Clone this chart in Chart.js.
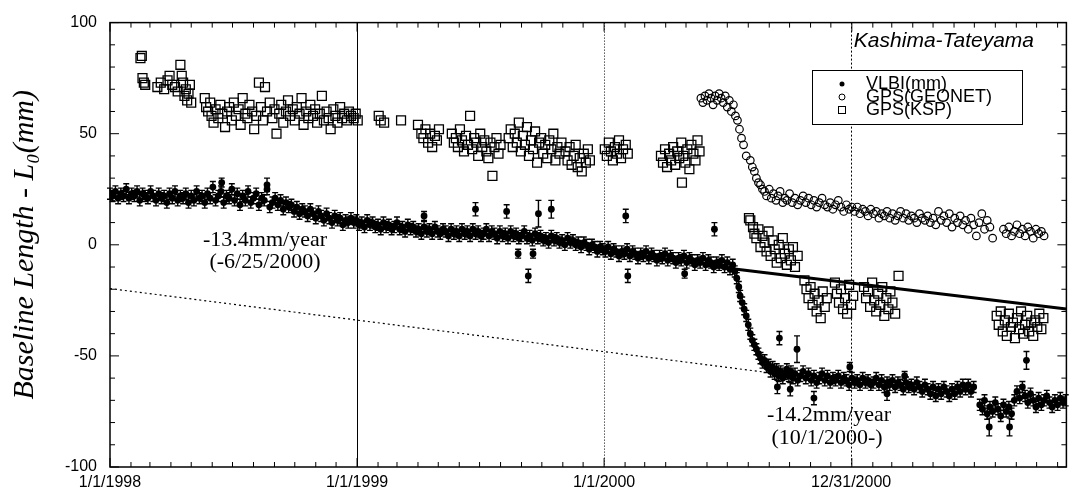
<!DOCTYPE html>
<html>
<head>
<meta charset="utf-8">
<script src="https://cdn.jsdelivr.net/npm/chart.js@4.4.1/dist/chart.umd.min.js"></script>
<style>
  html, body { margin: 0; padding: 0; background: #fff; }
</style>
</head>
<body>
<canvas id="baselineChart" width="1074" height="494"></canvas>
<script>
// x = days since 1/1/1998, y = baseline length - L0 (mm)
const xTickDays = [0, 365, 730, 1095];
const xTickLabels = ['1/1/1998', '1/1/1999', '1/1/2000', '12/31/2000'];

const vlbi = [
  [0,23],[4,22],[8,24],[12,21],[16,23],[20,22],[24,25],[28,21],[32,23],[36,22],[40,24],[44,20],[48,23],[52,22],[56,21],[60,24],
  [64,22],[68,20],[72,23],[76,21],[80,22],[84,19],[88,23],[92,21],[96,24],[100,20],[104,22],[108,21],[112,23],[116,19],[120,22],
  [124,20],[128,24],[132,21],[136,22],[140,19],[144,23],[148,21],[152,26],[156,20],[160,22],[164,24],[168,19],[172,22],[176,21],
  [180,25],[184,20],[188,23],[192,18],[196,22],[200,20],[204,24],[208,19],[212,21],[216,23],[220,18],[224,21],[228,20],[232,25],
  [236,17],[240,19],[244,21],[248,18],[252,20],[256,16],[260,19],[264,17],[268,18],[272,15],[276,17],[280,14],[284,16],[288,15],
  [292,13],[296,16],[300,14],[304,12],[308,15],[312,13],[316,11],[320,14],[324,12],[328,10],[332,13],[336,11],[340,12],[344,9],
  [348,11],[352,10],[356,12],[360,10],[364,11],[368,9],[372,10],[376,8],[380,11],[384,9],[388,10],[392,8],[396,9],[400,7],
  [404,10],[408,8],[412,9],[416,7],[420,8],[424,10],[428,7],[432,8],[436,6],[440,9],[444,7],[448,8],[452,6],[456,7],[460,5],
  [464,8],[468,6],[472,7],[476,5],[480,8],[484,6],[488,5],[492,7],[496,6],[500,4],[504,7],[508,5],[512,6],[516,4],[520,7],
  [524,5],[528,6],[532,4],[536,7],[540,5],[544,6],[548,4],[552,5],[556,7],[560,4],[564,6],[568,5],[572,3],[576,6],[580,4],
  [584,5],[588,3],[592,6],[596,4],[600,5],[604,3],[608,4],[612,6],[616,3],[620,4],[624,2],[628,5],[632,3],[636,4],[640,2],
  [644,3],[648,1],[652,4],[656,2],[660,3],[664,1],[668,2],[672,0],[676,3],[680,1],[684,2],[688,0],[692,1],[696,-1],[700,1],
  [704,0],[708,-2],[712,0],[716,-1],[720,-3],[724,-1],[728,-2],[732,-3],[736,-1],[740,-4],[744,-2],[748,-3],[752,-5],[756,-3],
  [760,-4],[764,-2],[768,-5],[772,-3],[776,-4],[780,-6],[784,-4],[788,-5],[792,-3],[796,-6],[800,-4],[804,-5],[808,-7],[812,-5],
  [816,-6],[820,-4],[824,-7],[828,-5],[832,-6],[836,-8],[840,-6],[844,-7],[848,-5],[852,-8],[856,-6],[860,-7],[864,-9],[868,-7],
  [872,-8],[876,-6],[880,-9],[884,-7],[888,-8],[892,-10],[896,-8],[900,-9],[904,-7],[908,-10],[912,-8],[916,-11],[920,-9],
  [923,-12],[926,-15],[929,-19],[931,-23],[934,-26],[937,-29],[940,-32],[943,-36],[946,-40],[949,-43],[952,-45],[955,-47],
  [958,-49],[961,-51],[964,-53],[967,-52],[970,-55],[973,-54],[976,-57],[979,-55],[982,-58],[985,-56],[988,-59],[991,-57],
  [994,-60],[997,-58],[1000,-56],[1003,-59],[1006,-57],[1009,-60],[1012,-58],[1016,-61],[1020,-59],[1024,-57],[1028,-60],
  [1032,-58],[1036,-61],[1040,-59],[1044,-62],[1048,-60],[1052,-58],[1056,-61],[1060,-59],[1064,-62],[1068,-60],[1072,-61],
  [1076,-59],[1080,-62],[1084,-60],[1088,-61],[1092,-63],[1096,-60],[1100,-62],[1104,-61],[1108,-63],[1112,-60],[1116,-62],
  [1120,-61],[1124,-63],[1128,-62],[1132,-60],[1136,-63],[1140,-61],[1144,-64],[1148,-62],[1152,-63],[1156,-61],[1160,-64],
  [1164,-62],[1168,-63],[1172,-65],[1176,-62],[1180,-64],[1184,-63],[1188,-65],[1192,-62],[1196,-64],[1200,-66],[1204,-63],
  [1208,-65],[1212,-67],[1216,-64],[1220,-68],[1224,-65],[1228,-67],[1232,-64],[1236,-66],[1240,-68],[1244,-65],[1248,-67],
  [1252,-64],[1256,-66],[1260,-63],[1264,-65],[1268,-63],[1272,-66],[1276,-64],[1285,-72],[1289,-74],[1292,-70],[1296,-76],
  [1300,-73],[1304,-75],[1308,-71],[1312,-74],[1316,-77],[1320,-72],[1324,-75],[1328,-73],[1332,-76],[1336,-70],[1340,-66],
  [1344,-69],[1348,-64],[1352,-68],[1356,-71],[1360,-67],[1364,-70],[1368,-73],[1372,-69],[1376,-72],[1380,-70],[1384,-68],
  [1388,-71],[1392,-73],[1396,-70],[1400,-72],[1404,-69],[1408,-71],[1412,-70]
];
const vlbiErr = 2.5;

// outlying VLBI sessions with larger error bars: [day, mm, err]
const vlbiOutliers = [
  [165,28,2],[232,27,3],[464,13,2],[540,16,3],[586,15,3],[633,14,6],[652,16,4],[603,-4,2],[625,-4,2],[618,-14,3],
  [762,13,3],[893,7,3],[765,-14,3],[849,-13,2],[989,-42,3],[1015,-47,6],[1093,-55,2],[1174,-59,2],[1299,-82,4],
  [1329,-82,4],[1354,-52,4],[986,-64,3],[1005,-65,3],[1040,-69,3],[1148,-67,3]
];

const geonet = [
  [873,66],[876,64],[879,67],[882,65],[885,68],[888,66],[891,63],[894,67],[897,65],[900,68],[903,66],[906,64],[909,67],
  [912,62],[915,65],[918,60],[921,63],[924,58],[927,56],[930,52],[933,48],[936,45],[940,40],[946,38],[949,35],[952,33],
  [955,30],[958,28],[961,27],[964,25],[967,24],[970,22],[974,25],[977,21],[980,23],[984,20],[987,22],[990,24],[994,19],
  [997,21],[1000,20],[1004,23],[1008,19],[1012,21],[1016,18],[1020,20],[1024,22],[1028,19],[1032,21],[1036,18],[1040,20],
  [1044,17],[1048,19],[1052,21],[1056,18],[1060,17],[1064,19],[1068,16],[1072,18],[1076,20],[1080,17],[1084,15],[1088,18],
  [1092,16],[1096,17],[1100,15],[1104,17],[1108,14],[1112,16],[1116,15],[1120,13],[1124,16],[1128,14],[1132,15],[1136,12],
  [1140,14],[1144,13],[1148,15],[1152,12],[1156,14],[1160,11],[1164,13],[1168,15],[1172,12],[1176,14],[1180,11],[1184,13],
  [1188,12],[1192,10],[1196,14],[1200,12],[1204,11],[1208,13],[1212,10],[1216,12],[1220,9],[1224,15],[1228,11],[1232,13],
  [1236,10],[1240,14],[1244,8],[1248,12],[1252,10],[1256,13],[1260,9],[1264,11],[1268,7],[1272,12],[1276,9],[1280,4],
  [1284,10],[1288,14],[1292,7],[1296,11],[1300,8],[1304,3],[1320,7],[1324,5],[1328,8],[1332,4],[1336,6],[1340,9],[1344,5],
  [1348,7],[1352,4],[1356,8],[1360,6],[1364,3],[1368,7],[1372,5],[1376,6],[1380,4]
];

const ksp = [
  [45,84],[47,85],[48,75],[50,73],[52,72],[70,71],[75,73],[80,70],[85,74],[88,76],[92,72],[96,71],[100,69],[104,81],
  [106,76],[108,73],[110,67],[112,70],[114,65],[116,68],[118,72],[120,64],
  [140,66],[142,62],[145,60],[148,64],[150,58],[153,55],[156,61],[160,57],[163,63],[166,59],[170,53],[173,60],[176,62],
  [180,56],[183,64],[186,58],[190,61],[193,54],[196,66],[200,59],[203,57],[206,63],[210,60],[213,52],[216,58],[220,73],
  [223,62],[226,56],[229,71],[232,60],[236,64],[240,57],[243,61],[246,50],[250,59],[253,63],[256,55],[260,60],[263,65],
  [266,58],[270,61],[273,56],[276,62],[280,59],[283,66],[286,54],[290,60],[293,57],[296,63],[300,58],[303,61],[306,55],
  [310,59],[313,67],[316,56],[320,60],[323,57],[326,52],[330,61],[333,58],[336,55],[340,62],[343,57],[346,59],[350,56],
  [353,60],[356,58],[360,57],[363,59],[366,56],
  [397,58],[400,56],[405,55],[430,56],[455,54],[460,50],[463,48],[466,52],[470,46],[473,50],[476,44],[480,49],[483,47],[486,52],
  [505,50],[508,46],[511,48],[514,44],[517,52],[520,47],[523,42],[526,49],[529,45],[532,58],[535,43],[538,48],[541,46],
  [544,40],[547,50],[550,44],[553,47],[556,42],[559,39],[562,46],[565,31],[568,44],[571,48],[574,41],[577,45],
  [589,48],[592,52],[595,44],[598,50],[601,46],[604,55],[607,42],[610,49],[613,45],[616,53],[619,40],[622,47],[625,43],
  [628,51],[631,37],[634,46],[637,48],[640,41],[643,45],[646,39],[649,47],[652,43],[655,50],[658,38],[661,44],[664,41],[667,46],
  [673,42],[676,38],[679,44],[682,36],[685,40],[688,45],[691,35],[694,39],[697,33],[700,41],[703,37],[706,43],[709,38],
  [731,43],[734,40],[737,46],[740,42],[743,38],[746,44],[749,41],[752,47],[755,39],[758,43],[762,45],[765,41],
  [814,40],[817,37],[820,43],[823,35],[826,41],[829,38],[832,44],[835,36],[838,42],[841,39],[844,46],[845,28],[847,40],
  [850,37],[853,43],[856,34],[859,45],[862,41],[865,38],[868,47],[871,42],
  [944,12],[946,11],[950,8],[952,5],[955,3],[958,7],[961,-1],[964,4],[967,1],[970,-3],[973,6],[976,-5],[979,2],[982,-2],
  [985,-8],[988,0],[991,-6],[994,3],[997,-4],[1000,-9],[1003,-2],[1006,-7],[1009,-1],[1012,-10],[1016,-5],
  [1026,-16],[1029,-20],[1032,-24],[1035,-19],[1038,-27],[1041,-22],[1044,-30],[1047,-25],[1050,-33],[1053,-21],[1056,-28],[1059,-24],
  [1071,-17],[1074,-22],[1077,-26],[1080,-20],[1083,-29],[1086,-24],[1089,-31],[1092,-18],[1095,-27],[1098,-23],
  [1114,-19],[1117,-24],[1120,-21],[1123,-28],[1126,-17],[1129,-25],[1132,-30],[1135,-22],[1138,-27],[1141,-19],[1144,-32],
  [1147,-24],[1150,-29],[1153,-21],[1156,-26],[1160,-31],[1165,-14],
  [1310,-32],[1313,-36],[1316,-30],[1319,-39],[1322,-34],[1325,-41],[1328,-31],[1331,-37],[1334,-35],[1337,-42],[1340,-33],
  [1343,-38],[1346,-30],[1349,-40],[1352,-36],[1355,-32],[1358,-39],[1361,-35],[1364,-41],[1367,-34],[1370,-37],[1373,-31],
  [1376,-38],[1379,-33]
];

// fitted rates
const preTrend = [[880, -9.3], [1413, -28.9]];   // -13.4 mm/year up to 6/25/2000
const postTrend = [[0, -19.7], [967, -57.3]];    // -14.2 mm/year from 10/1/2000

const toXY = arr => arr.map(p => ({ x: p[0], y: p[1] }));

const refLines = [
  { day: 365, dash: [] },
  { day: 730, dash: [1, 2] },
  { day: 1095, dash: [2, 2] },
];

const errorBars = {
  id: 'errorBars',
  afterDatasetsDraw(chart) {
    const { ctx, scales: { x, y } } = chart;
    ctx.save();
    ctx.strokeStyle = '#000';
    ctx.lineWidth = 1.4;
    chart.data.datasets.forEach(ds => {
      if (!ds.errs) return;
      ds.data.forEach((p, j) => {
        const e = ds.errs[j];
        const px = x.getPixelForValue(p.x);
        const top = y.getPixelForValue(p.y + e);
        const bot = y.getPixelForValue(p.y - e);
        ctx.beginPath();
        ctx.moveTo(px, top); ctx.lineTo(px, bot);
        ctx.moveTo(px - 3, top); ctx.lineTo(px + 3, top);
        ctx.moveTo(px - 3, bot); ctx.lineTo(px + 3, bot);
        ctx.stroke();
      });
    });
    ctx.restore();
  },
};

const frame = {
  id: 'frame',
  beforeDatasetsDraw(chart) {
    const { ctx, chartArea: a, scales: { x } } = chart;
    ctx.save();
    ctx.strokeStyle = '#000';
    ctx.lineWidth = 1;
    refLines.forEach(r => {
      const px = Math.round(x.getPixelForValue(r.day)) + 0.5;
      ctx.setLineDash(r.dash);
      ctx.beginPath();
      ctx.moveTo(px, a.top);
      ctx.lineTo(px, a.bottom);
      ctx.stroke();
    });
    ctx.restore();
  },
  afterDraw(chart) {
    const { ctx, chartArea: a, scales: { x, y } } = chart;
    ctx.save();
    ctx.strokeStyle = '#000';
    ctx.lineWidth = 1.5;
    ctx.strokeRect(a.left, a.top, a.right - a.left, a.bottom - a.top);

    // inward tick marks
    ctx.lineWidth = 1;
    ctx.beginPath();
    for (let v = -100; v <= 100; v += 10) {
      const py = y.getPixelForValue(v);
      const len = v % 50 === 0 ? 9 : 5;
      ctx.moveTo(a.left, py); ctx.lineTo(a.left + len, py);
      ctx.moveTo(a.right, py); ctx.lineTo(a.right - len, py);
    }
    const t0 = Date.UTC(1998, 0, 1);
    for (let m = 0; m < 48; m++) {
      const d = Math.round((Date.UTC(1998, m, 1) - t0) / 86400000);
      if (d > x.max) break;
      const px = x.getPixelForValue(d);
      const len = m % 12 === 0 ? 9 : 5;
      ctx.moveTo(px, a.bottom); ctx.lineTo(px, a.bottom - len);
      ctx.moveTo(px, a.top); ctx.lineTo(px, a.top + len);
    }
    ctx.stroke();

    // station pair title
    ctx.fillStyle = '#000';
    ctx.font = 'italic 21px "Liberation Sans", Arial, sans-serif';
    ctx.textAlign = 'right';
    ctx.textBaseline = 'middle';
    ctx.fillText('Kashima-Tateyama', 1034, 41);

    // legend
    ctx.fillStyle = '#fff';
    ctx.fillRect(812, 70, 210, 54);
    ctx.lineWidth = 1;
    ctx.strokeRect(812.5, 70.5, 210, 54);
    ctx.fillStyle = '#000';
    ctx.font = '18px "Liberation Sans", Arial, sans-serif';
    ctx.textAlign = 'left';
    const rows = [['VLBI(mm)', 84], ['GPS(GEONET)', 97], ['GPS(KSP)', 110]];
    rows.forEach(([t, ry]) => ctx.fillText(t, 866, ry));
    ctx.beginPath(); ctx.arc(842, 84, 2.5, 0, Math.PI * 2); ctx.fill();
    ctx.beginPath(); ctx.arc(842, 97, 3, 0, Math.PI * 2); ctx.stroke();
    ctx.strokeRect(838.5, 106.5, 7, 7);

    // rate annotations
    ctx.font = '22px "Liberation Serif", "Times New Roman", serif';
    ctx.textAlign = 'center';
    ctx.fillText('-13.4mm/year', 265, 240);
    ctx.fillText('(-6/25/2000)', 265, 262);
    ctx.fillText('-14.2mm/year', 829, 415);
    ctx.fillText('(10/1/2000-)', 827, 438);
    ctx.restore();
  },
};

const chart = new Chart(document.getElementById('baselineChart'), {
  type: 'scatter',
  data: {
    datasets: [
      {
        type: 'line',
        label: 'pre-event rate',
        data: toXY(preTrend),
        borderColor: '#000',
        borderWidth: 3,
        pointRadius: 0,
      },
      {
        type: 'line',
        label: 'post-event rate',
        data: toXY(postTrend),
        borderColor: '#000',
        borderWidth: 1.2,
        borderDash: [2, 3],
        pointRadius: 0,
      },
      {
        label: 'GPS(KSP)',
        data: toXY(ksp),
        pointStyle: 'rect',
        pointRadius: 6.3,
        backgroundColor: 'rgba(0,0,0,0)',
        borderColor: '#000',
        borderWidth: 1.3,
      },
      {
        label: 'GPS(GEONET)',
        data: toXY(geonet),
        pointStyle: 'circle',
        pointRadius: 3.8,
        backgroundColor: 'rgba(0,0,0,0)',
        borderColor: '#000',
        borderWidth: 1.2,
      },
      {
        label: 'VLBI(mm)',
        data: toXY(vlbi),
        errs: vlbi.map(() => vlbiErr),
        pointRadius: 3.4,
        backgroundColor: '#000',
        borderColor: '#000',
        borderWidth: 0,
      },
      {
        label: 'VLBI outliers',
        data: toXY(vlbiOutliers),
        errs: vlbiOutliers.map(p => p[2]),
        pointRadius: 3.4,
        backgroundColor: '#000',
        borderColor: '#000',
        borderWidth: 0,
      },
    ],
  },
  options: {
    responsive: false,
    animation: false,
    devicePixelRatio: 1,
    layout: { padding: { top: 20, right: 4, left: 0, bottom: 0 } },
    plugins: { legend: { display: false }, tooltip: { enabled: false } },
    scales: {
      x: {
        type: 'linear',
        min: 0,
        max: 1413,
        grid: { display: false, drawTicks: false },
        border: { display: false },
        afterBuildTicks: s => { s.ticks = xTickDays.map(v => ({ value: v })); },
        afterFit: s => { s.height = 27; },
        ticks: {
          autoSkip: false,
          maxRotation: 0,
          padding: 6,
          color: '#000',
          font: { family: '"Liberation Sans", Arial, sans-serif', size: 16 },
          callback: v => xTickLabels[xTickDays.indexOf(v)],
        },
      },
      y: {
        min: -100,
        max: 100,
        grid: { display: false, drawTicks: false },
        border: { display: false },
        afterFit: s => { s.width = 110; },
        ticks: {
          stepSize: 50,
          padding: 13,
          color: '#000',
          font: { family: '"Liberation Sans", Arial, sans-serif', size: 16 },
        },
        title: {
          display: true,
          text: 'Baseline Length - L\u2080(mm)',
          color: '#000',
          padding: { top: 7, bottom: 0 },
          font: { family: '"Liberation Serif", "Times New Roman", serif', size: 30, style: 'italic' },
        },
      },
    },
  },
  plugins: [frame, errorBars],
});
</script>
</body>
</html>
